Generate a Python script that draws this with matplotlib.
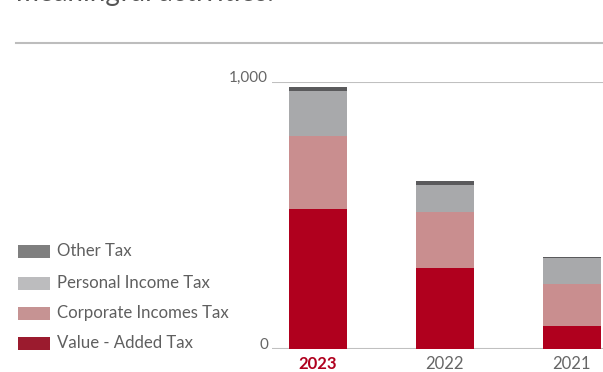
import matplotlib.pyplot as plt
import numpy as np
from matplotlib.patches import Rectangle
from matplotlib.lines import Line2D

plt.rcParams['font.family'] = ['Lato', 'DejaVu Sans']

# tax revenue by year (stacked)
years = ["2023", "2022", "2021"]
value_added = [524, 303, 86]
corporate = [274, 210, 159]
personal = [168, 101, 97]
other = [15, 15, 4]

series_names = ["Value - Added Tax", "Corporate Incomes Tax", "Personal Income Tax", "Other Tax"]
bar_colors = ["#b0001e", "#c98e8f", "#a8a9ab", "#5a5a5c"]
legend_colors = ["#9b1b2e", "#c69393", "#bcbcbe", "#7f7f7f"]

fig = plt.figure(figsize=(6.03, 3.72), dpi=100)
ax = fig.add_axes([272/603, 23/372, 331/603, 267/372])

x = np.arange(len(years))
bottom = np.zeros(len(years))
for vals, col in zip([value_added, corporate, personal, other], bar_colors):
    ax.bar(x, vals, width=0.457, bottom=bottom, color=col, linewidth=0)
    bottom += np.array(vals)

ax.set_xlim(-0.362, 2.245)
ax.set_ylim(0, 1000)
for s in ax.spines.values():
    s.set_visible(False)
ax.axhline(0, color="#c0c0c0", lw=1.5, zorder=0)
ax.axhline(1000, color="#c0c0c0", lw=1.5, zorder=0)
ax.set_xticks([])
ax.set_yticks([])

# y labels sitting just above their lines
for v, lab in [(0, "0"), (1000, "1,000")]:
    ax.text(-0.012, v, lab, transform=ax.get_yaxis_transform(), ha="right",
            va="baseline", fontsize=11, color="#666666")

# year labels
for i, y in enumerate(years):
    bold = i == 0
    ax.text(i, -0.025, y, transform=ax.get_xaxis_transform(), ha="center", va="top",
            fontsize=12, color="#b0001e" if bold else "#666666",
            fontweight="bold" if bold else "normal")

# legend, top entry is Other Tax
rows = [251, 283, 313, 343]
for name, col, ypx in zip(series_names[::-1], legend_colors[::-1], rows):
    fig.add_artist(Rectangle((18/603, 1 - (ypx + 6.5)/372), 32/603, 13/372,
                             transform=fig.transFigure, color=col, lw=0))
    fig.text(57/603, 1 - ypx/372, name, ha="left", va="center",
             fontsize=12.1, color="#5f5f5f")

# separator and heading text above the chart
fig.add_artist(Line2D([16/603, 1.0], [1 - 43/372, 1 - 43/372],
                      transform=fig.transFigure, color="#bdbdbd", lw=1.5))
fig.text(16/603, 1 - 1/372, "meaningful activities.", ha="left", va="baseline",
         fontsize=20, color="#555555")

fig.savefig("out.png", dpi=100)
